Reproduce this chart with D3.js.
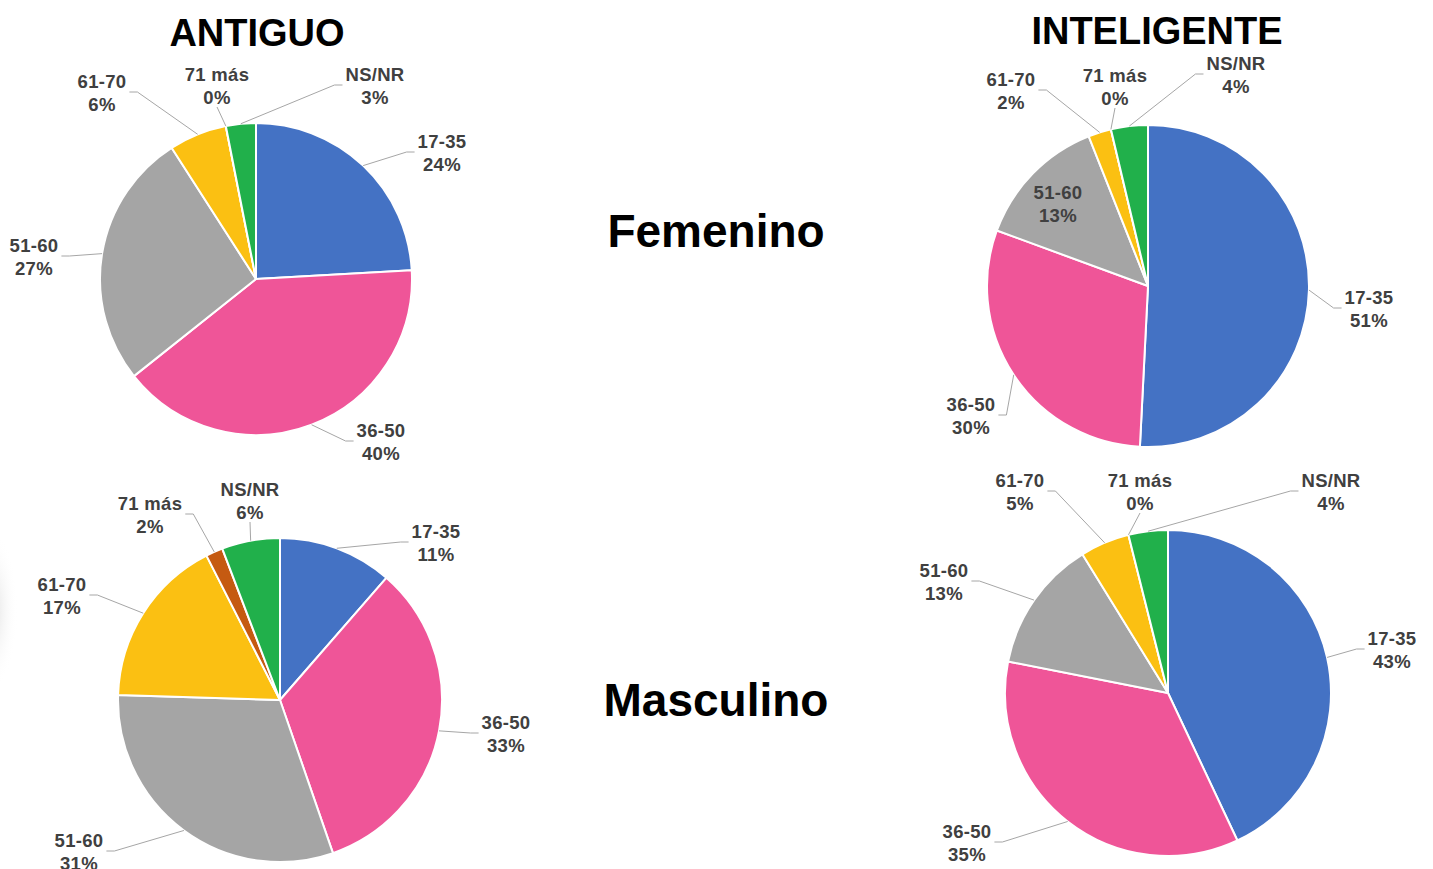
<!DOCTYPE html>
<html>
<head>
<meta charset="utf-8">
<script src="https://cdn.jsdelivr.net/npm/d3@7"></script>
<style>
  html, body { margin: 0; padding: 0; background: #fff; }
  svg { display: block; font-family: "Liberation Sans", Arial, sans-serif; }
</style>
</head>
<body>
<div id="chart"></div>
<script>
(function(){
  // datos (porcentajes por grupo de edad)
  const groups = ["17-35", "36-50", "51-60", "61-70", "71 más", "NS/NR"];
  const antiguoFem = [24.1, 40.2, 26.6, 6.0, 0, 3.1];
  const inteligenteFem = [50.8, 29.8, 13.4, 2.3, 0, 3.7];
  const antiguoMas = [11.4, 33.3, 30.8, 17.0, 1.7, 5.8];
  const inteligenteMas = [43.0, 35.1, 13.1, 4.9, 0, 3.9];
  const colors = ["#4472c4", "#ef5598", "#a5a5a5", "#fbc012", "#c55a11", "#21b04b"];

  const width = 1433;
  const height = 869;

  const svg = d3.select("#chart")
      .append("svg")
      .attr("width", width)
      .attr("height", height);

  // sombra tenue en el borde izquierdo
  const defs = svg.append("defs");
  const grad = defs.append("radialGradient").attr("id", "shade");
  grad.append("stop").attr("offset", "0%").attr("stop-color", "#d8d8d8").attr("stop-opacity", 0.8);
  grad.append("stop").attr("offset", "100%").attr("stop-color", "#ffffff").attr("stop-opacity", 0);
  svg.append("ellipse")
    .attr("cx", -8).attr("cy", 610).attr("rx", 26).attr("ry", 80)
    .attr("fill", "url(#shade)");

  // posiciones de etiquetas relativas al centro: [dx, dy, lado del conector]
  const pies = [
    {values: antiguoFem, cx: 256, cy: 279, r: 156,
     labels: [[186, -127, "l"], [125, 162, "l"], [-222, -23, "r"], [-154, -187, "r"], [-39, -194, "b"], [119, -194, "l"]]},
    {values: inteligenteFem, cx: 1148, cy: 286, r: 161,
     labels: [[221, 22, "l"], [-177, 129, "r"], [-90, -83, "none"], [-137, -196, "r"], [-33, -200, "b"], [88, -212, "l"]]},
    {values: antiguoMas, cx: 280, cy: 700, r: 162,
     labels: [[156, -158, "l"], [226, 33, "l"], [-201, 151, "r"], [-218, -105, "r"], [-130, -186, "r"], [-30, -200, "b"]]},
    {values: inteligenteMas, cx: 1168, cy: 693, r: 163,
     labels: [[224, -44, "l"], [-201, 149, "r"], [-224, -112, "r"], [-148, -202, "r"], [-28, -202, "b"], [163, -202, "l"]]}
  ];

  const pie = d3.pie().sort(null).value(d => d);

  pies.forEach(p => {
    const g = svg.append("g").attr("transform", `translate(${p.cx},${p.cy})`);
    const arc = d3.arc().innerRadius(0).outerRadius(p.r);
    const arcs = pie(p.values);

    g.selectAll("path.slice")
      .data(arcs)
      .enter().append("path")
      .attr("class", "slice")
      .attr("d", arc)
      .attr("fill", (d, i) => colors[i])
      .attr("stroke", "#fff")
      .attr("stroke-width", 2)
      .attr("stroke-linejoin", "round");

    arcs.forEach((d, i) => {
      const [dx, dy, side] = p.labels[i];
      const lab = g.append("text")
          .attr("text-anchor", "middle")
          .style("font-size", "18.5px")
          .style("font-weight", "bold")
          .style("letter-spacing", "0.3px")
          .attr("fill", "#404040");
      lab.append("tspan").attr("x", dx).attr("y", dy - 4).text(groups[i]);
      lab.append("tspan").attr("x", dx).attr("y", dy + 19).text(Math.round(d.value) + "%");

      if (side === "none") return;
      const w = lab.node().getBBox().width;
      const a = (d.startAngle + d.endAngle) / 2;
      const px = p.r * Math.sin(a), py = -p.r * Math.cos(a);
      let pts;
      if (side === "l") {
        const ax = dx - w / 2 - 3;
        pts = [[ax, dy], [ax - 8, dy], [px, py]];
      } else if (side === "r") {
        const ax = dx + w / 2 + 3;
        pts = [[ax, dy], [ax + 8, dy], [px, py]];
      } else {
        pts = [[dx, dy + 22], [px, py]];
      }
      g.append("path")
        .attr("d", d3.line()(pts))
        .attr("fill", "none")
        .attr("stroke", "#a6a6a6")
        .attr("stroke-width", 1);
    });
  });

  // títulos
  const titles = [
    {text: "ANTIGUO", x: 257, y: 46, size: 38},
    {text: "INTELIGENTE", x: 1157, y: 44, size: 38},
    {text: "Femenino", x: 716, y: 247, size: 46},
    {text: "Masculino", x: 716, y: 716, size: 46}
  ];
  svg.selectAll("text.title")
    .data(titles)
    .enter().append("text")
    .attr("class", "title")
    .attr("x", d => d.x)
    .attr("y", d => d.y)
    .attr("text-anchor", "middle")
    .style("font-size", d => d.size + "px")
    .style("font-weight", "bold")
    .attr("fill", "#000")
    .text(d => d.text);
})();
</script>
</body>
</html>
